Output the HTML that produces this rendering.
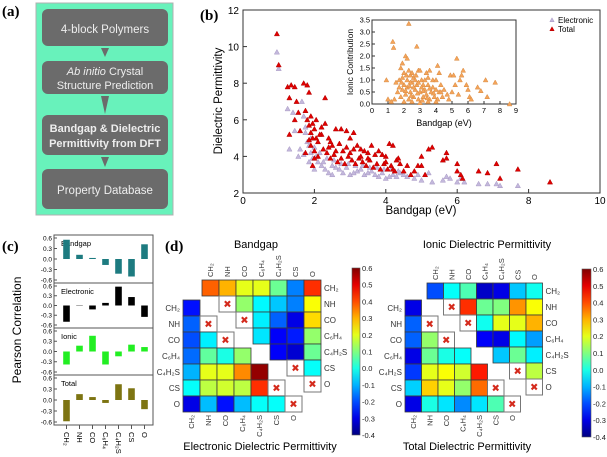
<!DOCTYPE html>
<html><head><meta charset="utf-8">
<style>
html,body{margin:0;padding:0;background:#fff;}
svg{display:block;font-family:"Liberation Sans",sans-serif;}
</style></head>
<body>
<svg id="fig" width="607" height="457" viewBox="0 0 607 457" xmlns="http://www.w3.org/2000/svg">
  <!-- Panel a -->
  <g>
    <text x="2" y="16" font-family="Liberation Serif" font-weight="bold" font-size="15">(a)</text>
    <rect x="36" y="3" width="137" height="212" fill="#68f2bb" stroke="#b0b0b0"/>
    <rect x="42" y="9" width="126" height="37" rx="6" fill="#6b6b6b"/>
    <text x="105" y="33" text-anchor="middle" fill="#eee" font-size="11.5">4-block Polymers</text>
    <polygon points="101,48 109,48 105,57" fill="#6b6b6b"/>
    <rect x="42" y="61" width="126" height="33" rx="6" fill="#6b6b6b"/>
    <text x="105" y="75" text-anchor="middle" fill="#eee" font-size="11"><tspan font-style="italic">Ab initio</tspan> Crystal</text>
    <text x="105" y="89" text-anchor="middle" fill="#eee" font-size="11">Structure Prediction</text>
    <polygon points="101,96 109,96 105,114" fill="#6b6b6b"/>
    <rect x="42" y="115" width="126" height="40" rx="6" fill="#6b6b6b"/>
    <text x="105" y="132" text-anchor="middle" fill="#eee" font-size="11" font-weight="bold">Bandgap &amp; Dielectric</text>
    <text x="105" y="147" text-anchor="middle" fill="#eee" font-size="11" font-weight="bold">Permittivity from DFT</text>
    <polygon points="101,157 109,157 105,167" fill="#6b6b6b"/>
    <rect x="42" y="169" width="126" height="40" rx="6" fill="#6b6b6b"/>
    <text x="105" y="194" text-anchor="middle" fill="#eee" font-size="11.5">Property Database</text>
  </g>
  <text x="200" y="20" font-family="Liberation Serif" font-weight="bold" font-size="15">(b)</text>
  <text x="2" y="251" font-family="Liberation Serif" font-weight="bold" font-size="15">(c)</text>
  <text x="165" y="251" font-family="Liberation Serif" font-weight="bold" font-size="15">(d)</text>
  <g id="pb"></g>
  <g id="pc"></g>
  <g id="pd"></g>
</svg>
<script>
// ---------- Panel b data ----------
const elecX=[0.95,1.0,1.25,1.3,1.4,1.45,1.6,1.65,1.7,1.75,1.8,1.85,1.9,1.95,2.0,2.1,2.2,2.3,2.4,2.5,2.6,2.8,3.0,3.2,3.4,3.6,3.8,4.0,4.2,4.4,4.6,4.8,5.0,5.3,5.6,5.8,6.0,6.2,6.6,6.85,7.1,7.2,7.7,1.55,1.7,1.85,2.05,2.25,2.5,2.7,2.9,3.1,3.3,3.5,3.7,3.9,4.1,4.3,1.75,1.9,2.0,2.15,2.35,2.55,2.75,2.95,3.15,3.35,3.55,3.75,3.95,4.15,4.35,4.5,5.2,4.9,5.7,6.1];
const elecY=[9.7,8.8,6.6,4.4,6.4,5.4,4.4,7.0,6.2,5.3,4.8,4.6,4.2,3.9,3.3,3.7,3.5,3.3,3.1,3.0,3.4,3.1,3.0,3.2,3.0,3.2,2.9,2.8,3.0,3.1,2.9,2.8,2.7,2.6,2.7,2.8,2.6,2.6,2.5,2.5,2.5,2.4,2.4,4.0,4.1,3.7,4.0,3.7,3.5,3.3,3.4,3.1,3.3,3.1,3.0,3.1,2.9,2.9,5.6,5.0,4.5,4.2,3.9,3.8,3.6,3.6,3.5,3.5,3.4,3.4,3.3,3.3,3.2,3.0,3.1,3.0,2.9,2.8];
const totX=[0.95,1.0,1.25,1.3,1.35,1.45,1.3,1.5,1.45,1.55,1.6,1.7,1.8,1.85,2.3,1.75,1.8,1.85,1.9,1.95,2.0,2.05,2.1,2.2,2.3,2.4,2.5,2.6,2.75,2.9,3.0,3.1,3.2,3.3,3.5,3.6,3.8,3.9,4.1,4.2,4.3,4.4,4.6,4.8,5.0,5.0,5.2,5.3,5.6,5.7,5.7,6.0,6.0,6.1,6.15,6.6,6.85,7.1,7.2,7.7,8.6,1.75,1.9,2.0,2.1,2.25,2.35,2.45,2.55,2.65,2.75,2.85,2.95,3.05,3.15,3.25,3.35,3.45,3.55,3.65,3.75,3.85,3.95,4.05,4.15,4.25,4.5,4.7,4.9,5.1,1.95,2.15,2.45,2.7,2.9,3.4,3.7,4.0,4.35,2.05,2.2,1.9,2.6,3.0,3.3,3.5,4.0,4.2,2.4,2.8,3.1,1.85,1.95,2.0];
const totY=[10.7,9.0,7.8,7.2,7.9,7.8,5.2,7.0,6.0,6.4,5.4,8.0,7.9,7.5,7.2,6.5,6.0,5.7,6.2,5.8,5.5,5.0,4.8,5.2,5.8,5.0,4.6,5.5,5.5,5.4,5.0,5.3,4.6,4.4,4.2,4.6,4.3,4.1,4.7,4.6,3.8,3.6,3.5,3.2,4.0,3.5,4.4,4.5,3.8,4.2,3.9,3.6,3.2,3.0,2.8,3.2,3.1,3.6,2.8,3.3,2.6,4.2,4.6,4.3,4.0,4.4,4.2,3.9,4.1,3.7,3.9,3.6,4.0,3.8,3.6,3.9,3.7,3.5,3.8,3.4,3.6,3.3,3.6,3.3,3.5,3.2,3.2,3.0,3.5,3.0,5.0,5.2,4.8,4.7,4.5,4.3,4.1,4.0,3.9,6.0,5.6,5.3,4.3,4.2,4.0,3.9,3.7,3.3,4.5,4.3,4.4,4.9,3.5,3.9];
const ionX=[0.9,1.0,1.2,1.3,1.35,1.4,1.5,1.6,1.7,1.8,1.9,2.0,2.1,2.2,2.3,2.4,2.5,2.6,2.8,2.9,3.0,3.1,3.2,3.4,3.6,3.8,4.0,4.1,4.2,4.3,4.5,4.7,4.8,4.9,5.0,5.1,5.3,5.2,5.4,5.5,5.6,5.7,5.9,6.0,6.1,6.2,6.6,6.8,7.1,7.2,7.7,8.6,1.8,1.9,2.0,2.1,2.2,2.3,2.4,2.5,2.6,2.7,2.8,2.9,3.0,3.1,3.2,3.3,3.4,3.5,3.6,3.7,3.8,3.9,4.0,4.1,4.2,4.4,2.0,2.5,3.0,3.5,4.0,1.9,2.2,2.7,3.3,2.4,2.6,2.9,3.2,3.6,4.3,1.7,2.3,2.75,3.5,2.1,2.45,2.85,3.15,3.45,3.85,2.15,1.85,2.35];
const ionY=[1.0,0.2,0.1,2.6,2.35,0.2,0.9,0.5,1.0,1.5,1.7,1.3,2.0,1.9,3.35,1.2,1.3,1.1,2.4,1.4,1.4,1.0,0.8,1.3,1.4,1.0,1.0,1.6,1.3,0.8,0.6,0.4,0.2,1.2,0.5,1.2,1.9,0.8,0.4,1.0,1.2,1.4,0.8,0.6,0.3,0.2,0.7,0.55,1.0,0.3,0.9,0.0,0.3,0.6,0.8,0.4,0.7,0.2,0.5,0.9,0.3,0.6,0.8,0.2,0.5,0.7,0.3,0.6,0.4,0.8,0.2,0.5,0.7,0.3,0.6,0.2,0.5,0.3,0.1,0.1,0.05,0.1,0.1,1.1,1.0,1.0,1.0,0.9,0.7,0.9,0.55,0.65,0.5,0.7,1.4,1.2,1.1,0.55,0.35,0.45,0.15,0.25,0.45,1.2,0.9,0.75];
const bXTicks=[0,2,4,6,8,10];
const bYTicks=[2,4,6,8,10,12];
const insXTicks=[0,1,2,3,4,5,6,7,8,9];
const insYTicks=[0.0,0.5,1.0,1.5,2.0,2.5,3.0,3.5];

// ---------- Panel c data ----------
const corrCats=["CH₂","NH","CO","C₆H₄","C₄H₂S","CS","O"];
const corrPanels=["Bandgap","Electronic","Ionic","Total"];
const corrBandgap=[0.55,0.12,0.03,-0.17,-0.42,-0.5,0.42];
const corrElectronic=[-0.5,-0.01,-0.12,0.08,0.58,0.26,-0.35];
const corrIonic=[-0.38,0.17,0.46,-0.38,-0.14,0.2,0.13];
const corrTotal=[-0.58,0.16,0.08,-0.08,0.43,0.32,-0.25];
const corrTicks=[0.6,0.3,0.0,-0.3,-0.6];

// ---------- Panel d data (n = blank, "x" = diagonal mark) ----------
const n=null;
const heatLabels=["CH₂","NH","CO","C₆H₄","C₄H₂S","CS","O"];
const bandgapUpper=[
 [0.38,0.3,0.2,0.2,0.08,-0.15,0.43],
 [n,"x",0.12,-0.03,-0.08,-0.15,0.22],
 [n,n,"x",-0.04,-0.18,-0.3,0.26],
 [n,n,n,-0.05,-0.28,-0.25,0.12],
 [n,n,n,n,-0.28,-0.32,0.08],
 [n,n,n,n,n,"x",-0.02],
 [n,n,n,n,n,n,"x"]];
const electronicLower=[
 [-0.26],
 [-0.18,"x"],
 [-0.2,-0.04,"x"],
 [-0.17,0.07,0.0,0.12],
 [-0.1,0.2,0.2,0.34,0.58],
 [-0.02,0.16,0.18,0.16,0.43,"x"],
 [-0.3,-0.09,-0.26,-0.09,-0.02,-0.02,"x"]];
const ionicUpper=[
 [-0.2,-0.02,0.05,-0.33,-0.3,-0.08,-0.01],
 [n,"x",0.43,0.08,0.1,0.33,0.22],
 [n,n,"x",-0.01,0.2,0.2,0.3],
 [n,n,n,-0.28,-0.3,-0.03,-0.12],
 [n,n,n,n,-0.08,0.08,-0.04],
 [n,n,n,n,n,"x",0.16],
 [n,n,n,n,n,n,"x"]];
const totalLower=[
 [-0.3],
 [-0.18,"x"],
 [-0.18,0.12,"x"],
 [-0.3,0.08,0.0,-0.02],
 [-0.22,0.2,0.22,0.18,0.45],
 [-0.07,0.27,0.2,0.12,0.37,"x"],
 [-0.3,0.0,-0.05,-0.14,-0.05,0.05,"x"]];
const cbarTicksLeft=["0.6","0.5","0.4","0.3","0.2","0.1","0.0","-0.1","-0.2","-0.3","-0.4"];
const cbarTicksRight=["0.6","0.5","0.4","0.3","0.2","0.1","0.0","-0.1","-0.2","-0.3","-0.4"];

const NS="http://www.w3.org/2000/svg";
function mk(parent,tag,attrs,text){
  const e=document.createElementNS(NS,tag);
  for(const k in attrs) e.setAttribute(k,attrs[k]);
  if(text!==undefined) e.textContent=text;
  parent.appendChild(e);
  return e;
}
function tri(parent,cx,cy,s,fill,stroke){
  return mk(parent,"polygon",{points:`${cx},${cy-s} ${cx-s},${cy+s*0.8} ${cx+s},${cy+s*0.8}`,fill:fill,stroke:stroke,"stroke-width":0.5});
}

// ===== Panel b =====
(function(){
  const g=document.getElementById("pb");
  const L=243,R=600,T=10,B=193;
  const sx=v=>L+(v-0)/(10-0)*(R-L);
  const sy=v=>B-(v-2)/(12-2)*(B-T);
  let e=mk(g,"rect",{x:L,y:T,width:R-L,height:B-T,fill:"#fff",stroke:"#333","stroke-width":1});
  
  
  bXTicks.forEach(t=>{
    mk(g,"line",{x1:sx(t),x2:sx(t),y1:B,y2:B-4,stroke:"#333"});
    e=mk(g,"text",{x:sx(t),y:B+11,"text-anchor":"middle","font-size":10},String(t));
    
    
  });
  bYTicks.forEach(t=>{
    mk(g,"line",{x1:L,x2:L+4,y1:sy(t),y2:sy(t),stroke:"#333"});
    e=mk(g,"text",{x:L-4,y:sy(t)+4,"text-anchor":"end","font-size":10},String(t));
    
    
  });
  e=mk(g,"text",{x:421,y:214,"text-anchor":"middle","font-size":11.5},"Bandgap (eV)");
  
  
  e=mk(g,"text",{x:0,y:0,"text-anchor":"middle","font-size":11.5,transform:"translate(222,101) rotate(-90)"},"Dielectric Permittivity");
  
  
  const pts=mk(g,"g",{});
  
  
  elecX.forEach((x,i)=>{
    e=tri(pts,sx(x),sy(elecY[i]),2.6,"#c3b8dc","#a898c4");
    
    
  });
  const pt2=mk(g,"g",{});
  
  
  totX.forEach((x,i)=>{
    e=tri(pt2,sx(x),sy(totY[i]),2.6,"#e00000","#b00000");
    
    
  });
  // legend
  e=tri(g,552,20,2.2,"#c3b8dc","#a898c4");
  
  
  e=mk(g,"text",{x:558,y:23,"font-size":8},"Electronic");
  
  
  e=tri(g,552,29,2.2,"#e00000","#b00000");
  
  
  e=mk(g,"text",{x:558,y:32,"font-size":8},"Total");
  
  
  // inset
  const iL=372,iR=516,iT=20,iB=104;
  const ix=v=>iL+v/9*(iR-iL);
  const iy=v=>iB-v/3.5*(iB-iT);
  const ig=mk(g,"g",{});
  
  
  mk(ig,"rect",{x:iL,y:iT,width:iR-iL,height:iB-iT,fill:"#fff",stroke:"#333"});
  insXTicks.forEach(t=>{
    mk(ig,"line",{x1:ix(t),x2:ix(t),y1:iB,y2:iB-3,stroke:"#333"});
    e=mk(ig,"text",{x:ix(t),y:iB+9,"text-anchor":"middle","font-size":7.5},String(t));
    
    
  });
  insYTicks.forEach(t=>{
    mk(ig,"line",{x1:iL,x2:iL+3,y1:iy(t),y2:iy(t),stroke:"#333"});
    e=mk(ig,"text",{x:iL-2,y:iy(t)+2.5,"text-anchor":"end","font-size":7.5},t.toFixed(1));
    
    
  });
  e=mk(ig,"text",{x:444,y:126,"text-anchor":"middle","font-size":9},"Bandgap (eV)");
  
  
  e=mk(ig,"text",{x:0,y:0,"text-anchor":"middle","font-size":8.5,transform:"translate(353,62) rotate(-90)"},"Ionic Contribution");
  
  
  ionX.forEach((x,i)=>{
    e=tri(ig,ix(x),iy(ionY[i]),2.4,"#f4a45a","#d88a40");
    
    
  });
})();

// ===== Panel c =====
(function(){
  const g=document.getElementById("pc");
  const L=54,R=153;
  const rows=[[235,283],[283,328],[328,375],[375,425]];
  const series=[corrBandgap,corrElectronic,corrIonic,corrTotal];
  const colors=["#1d7b80","#000000","#22ee22","#7d7412"];
  const cx=i=>L+6+(i+0.5)*((R-L-8)/7);
  rows.forEach((r,k)=>{
    const top=r[0]+3,bot=r[1]-3;
    const sy=v=>top+(0.6-v)/1.2*(bot-top);
    let e=mk(g,"rect",{x:L,y:r[0],width:R-L,height:r[1]-r[0],fill:"#fff",stroke:"#555"});
    
    
    corrTicks.forEach(t=>{
      mk(g,"line",{x1:L,x2:L+3,y1:sy(t),y2:sy(t),stroke:"#555"});
      e=mk(g,"text",{x:L-2,y:sy(t)+2.3,"text-anchor":"end","font-size":6.5},t.toFixed(1));
      
      
    });
    e=mk(g,"text",{x:61,y:r[0]+11,"font-size":7.5},corrPanels[k]);
    
    
    series[k].forEach((v,i)=>{
      const y0=sy(0),y1=sy(v);
      e=mk(g,"rect",{x:cx(i)-3.3,y:Math.min(y0,y1),width:6.6,height:Math.abs(y1-y0),fill:colors[k]});
      
      
    });
  });
  corrCats.forEach((c,i)=>{
    mk(g,"line",{x1:cx(i),x2:cx(i),y1:425,y2:429,stroke:"#555"});
    const e=mk(g,"text",{x:0,y:0,"font-size":7.5,transform:`translate(${cx(i)-2.5},432) rotate(90)`},c);
    
    
  });
  const e=mk(g,"text",{x:0,y:0,"text-anchor":"middle","font-size":12,transform:"translate(21,330) rotate(-90)"},"Pearson Correlation");
  
  
})();

// ===== Panel d =====
function jet(v){
  let t=(v+0.4)/1.0; t=Math.max(0,Math.min(1,t));
  const c=x=>Math.round(255*Math.max(0,Math.min(1,x)));
  return `rgb(${c(1.5-Math.abs(4*t-3))},${c(1.5-Math.abs(4*t-2))},${c(1.5-Math.abs(4*t-1))})`;
}
function drawGrid(g,data,x0,y0,w,h,name){
  data.forEach((row,r)=>{
    row.forEach((v,c)=>{
      if(v===null) return;
      const x=x0+c*w,y=y0+r*h;
      if(v==="x"){
        let e=mk(g,"rect",{x:x,y:y,width:w,height:h,fill:"#fff",stroke:"#777","stroke-width":1});
        
        
        e=mk(g,"text",{x:x+w/2,y:y+h/2+3.5,"text-anchor":"middle","font-size":10,fill:"#d42a1c","font-family":"DejaVu Sans"},"✖");
        
        
      } else {
        const e=mk(g,"rect",{x:x,y:y,width:w,height:h,fill:jet(v),stroke:"#3a3a3a","stroke-width":0.8});
        
        
      }
    });
  });
}
function heatPanel(opts){
  const g=document.getElementById("pd");
  const {ux,uy,lx,ly,w,h,upper,lower,cb,ticks,title,subtitle,titleX,subX,cbTitle}=opts;
  drawGrid(g,upper,ux,uy,w,h,cbTitle+'-upper');
  drawGrid(g,lower,lx,ly,w,h,cbTitle+'-lower');
  heatLabels.forEach((lab,i)=>{
    let e=mk(g,"text",{x:0,y:0,"font-size":7.5,fill:"#333",transform:`translate(${ux+i*w+w/2+2.5},${uy-3}) rotate(-90)`},lab);
    
    
    e=mk(g,"text",{x:ux+7*w+3,y:uy+i*h+h/2+3,"font-size":8,fill:"#333"},lab);
    
    
    e=mk(g,"text",{x:lx-3,y:ly+i*h+h/2+3,"font-size":8,fill:"#333","text-anchor":"end"},lab);
    
    
    e=mk(g,"text",{x:0,y:0,"font-size":7.5,fill:"#333","text-anchor":"end",transform:`translate(${lx+i*w+w/2+2.5},${ly+7*h+3}) rotate(-90)`},lab);
    
    
  });
  let e=mk(g,"text",{x:titleX,y:248,"text-anchor":"middle","font-size":11},title);
  
  
  e=mk(g,"text",{x:subX,y:450,"text-anchor":"middle","font-size":11},subtitle);
  
  
  // colorbar
  const gid="grad"+cbTitle;
  const defs=mk(g,"defs",{});
  const lg=mk(defs,"linearGradient",{id:gid,x1:0,y1:1,x2:0,y2:0});
  for(let i=0;i<=10;i++){ mk(lg,"stop",{offset:i/10,"stop-color":jet(-0.4+i/10)}); }
  e=mk(g,"rect",{x:cb[0],y:cb[1],width:cb[2],height:cb[3]-cb[1],fill:`url(#${gid})`,stroke:"#555","stroke-width":0.6});
  
  
  ticks.forEach((t,i)=>{
    const y=cb[1]+i*(cb[3]-cb[1])/(ticks.length-1);
    const e2=mk(g,"text",{x:cb[0]+cb[2]+2,y:y+3,"font-size":7.5,fill:"#222"},t);
    
    
  });
}
heatPanel({ux:202,uy:280,lx:183,ly:300,w:17,h:16,upper:bandgapUpper,lower:electronicLower,cb:[352,268,8,435],ticks:cbarTicksLeft,title:"Bandgap",subtitle:"Electronic Dielectric Permittivity",titleX:256,subX:260,cbTitle:"left"});
heatPanel({ux:427,uy:283,lx:405,ly:300,w:16.5,h:16,upper:ionicUpper,lower:totalLower,cb:[582,269,9,437],ticks:cbarTicksRight,title:"Ionic Dielectric Permittivity",subtitle:"Total Dielectric Permittivity",titleX:487,subX:467,cbTitle:"right"});
</script>
</body></html>
